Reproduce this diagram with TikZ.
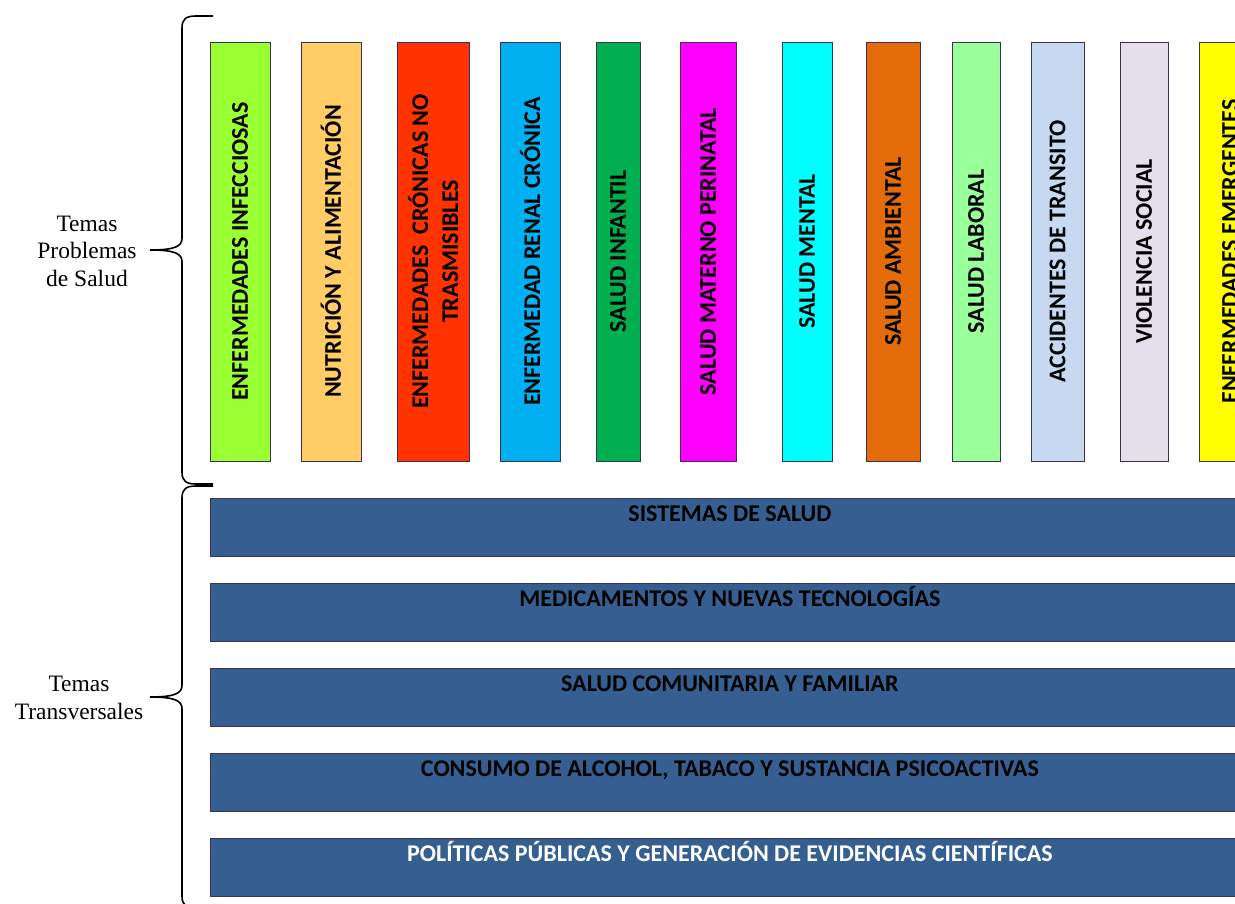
\documentclass[tikz,border=0pt]{standalone}
\usepackage{fontspec}
\setmainfont{Liberation Serif}
\newfontfamily\temafont{Carlito}
\definecolor{borde}{HTML}{3F3151}
\definecolor{barra}{HTML}{365F91}
\definecolor{cInfec}{HTML}{99FF33}
\definecolor{cNutri}{HTML}{FFCC66}
\definecolor{cCronic}{HTML}{FF3300}
\definecolor{cRenal}{HTML}{00B0F0}
\definecolor{cInfan}{HTML}{00B050}
\definecolor{cMater}{HTML}{FF00FF}
\definecolor{cMental}{HTML}{00FFFF}
\definecolor{cAmbi}{HTML}{E36C09}
\definecolor{cLabor}{HTML}{99FF99}
\definecolor{cTrans}{HTML}{C6D9F1}
\definecolor{cViol}{HTML}{E5DFEC}
\definecolor{cEmerg}{HTML}{FFFF00}

\begin{document}
\begin{tikzpicture}[x=1pt,y=-1pt,
        vtema/.style={rotate=90,draw=borde,line width=0.8pt,inner sep=0pt,
            minimum width=419pt,align=center,
            font=\temafont\bfseries\fontsize{24}{30}\selectfont},
        htema/.style={draw=borde,line width=0.8pt,fill=barra,anchor=north west,
            inner sep=0pt,minimum width=1039pt,text height=23pt,text depth=35pt,
            font=\temafont\bfseries\fontsize{24}{30}\selectfont},
        llave/.style={line width=1.6pt},
        rotulo/.style={align=center,font=\fontsize{23.5}{27.5}\selectfont}]
                \useasboundingbox (0,0) rectangle (1235,903);
                \clip (0,0) rectangle (1235,903);
                \node[vtema,fill=cInfec,minimum height=60pt] (infecciosas) at (240,251.5) {ENFERMEDADES INFECCIOSAS};
                \node[vtema,fill=cNutri,minimum height=60pt] (nutricion) at (331,251.5) {NUTRICIÓN Y ALIMENTACIÓN};
                \node[vtema,fill=cCronic,minimum height=72pt] (cronicas) at (433,251.5) {ENFERMEDADES\ \ CRÓNICAS NO\\TRASMISIBLES};
                \node[vtema,fill=cRenal,minimum height=60pt] (renal) at (530,251.5) {ENFERMEDAD RENAL CRÓNICA};
                \node[vtema,fill=cInfan,minimum height=44pt] (infantil) at (618,251.5) {SALUD INFANTIL};
                \node[vtema,fill=cMater,minimum height=56pt] (materno) at (708,251.5) {SALUD MATERNO PERINATAL};
                \node[vtema,fill=cMental,minimum height=50pt] (mental) at (807,251.5) {SALUD MENTAL};
                \node[vtema,fill=cAmbi,minimum height=54pt] (ambiental) at (893,251.5) {SALUD AMBIENTAL};
                \node[vtema,fill=cLabor,minimum height=48pt] (laboral) at (976,251.5) {SALUD LABORAL};
                \node[vtema,fill=cTrans,minimum height=53pt] (transito) at (1057.5,251.5) {ACCIDENTES DE TRANSITO};
                \node[vtema,fill=cViol,minimum height=48pt] (violencia) at (1144,251.5) {VIOLENCIA SOCIAL};
                \node[vtema,fill=cEmerg,minimum height=62pt] (emergentes) at (1230,251.5) {ENFERMEDADES EMERGENTES};
                \node[htema] (sistemas) at (210,498) {SISTEMAS DE SALUD};
                \node[htema] (medicamentos) at (210,583) {MEDICAMENTOS Y NUEVAS TECNOLOGÍAS};
                \node[htema] (comunitaria) at (210,668) {SALUD COMUNITARIA Y FAMILIAR};
                \node[htema] (consumo) at (210,753) {CONSUMO DE ALCOHOL, TABACO Y SUSTANCIA PSICOACTIVAS};
                \node[htema,text=white] (politicas) at (210,838) {POLÍTICAS PÚBLICAS Y GENERACIÓN DE EVIDENCIAS CIENTÍFICAS};
                \draw[llave] (213,16) -- (196,16) .. controls (186,16) and (182,19) .. (182,28) -- (182,238)
                    .. controls (182,246) and (176,250) .. (150,250) .. controls (176,250) and (182,254) .. (182,262)
                    -- (182,472) .. controls (182,481) and (186,484) .. (196,484) -- (213,484);
                \draw[llave] (213,486) -- (196,486) .. controls (186,486) and (182,489) .. (182,498) -- (182,685)
                    .. controls (182,693) and (176,697) .. (150,697) .. controls (176,697) and (182,701) .. (182,709)
                    -- (182,896) .. controls (182,905) and (186,908) .. (196,908) -- (213,908);
                \node[rotulo] (problemas) at (87,251) {Temas\\Problemas\\de Salud};
                \node[rotulo] (transversales) at (79,698) {Temas\\Transversales};
\end{tikzpicture}
\end{document}
